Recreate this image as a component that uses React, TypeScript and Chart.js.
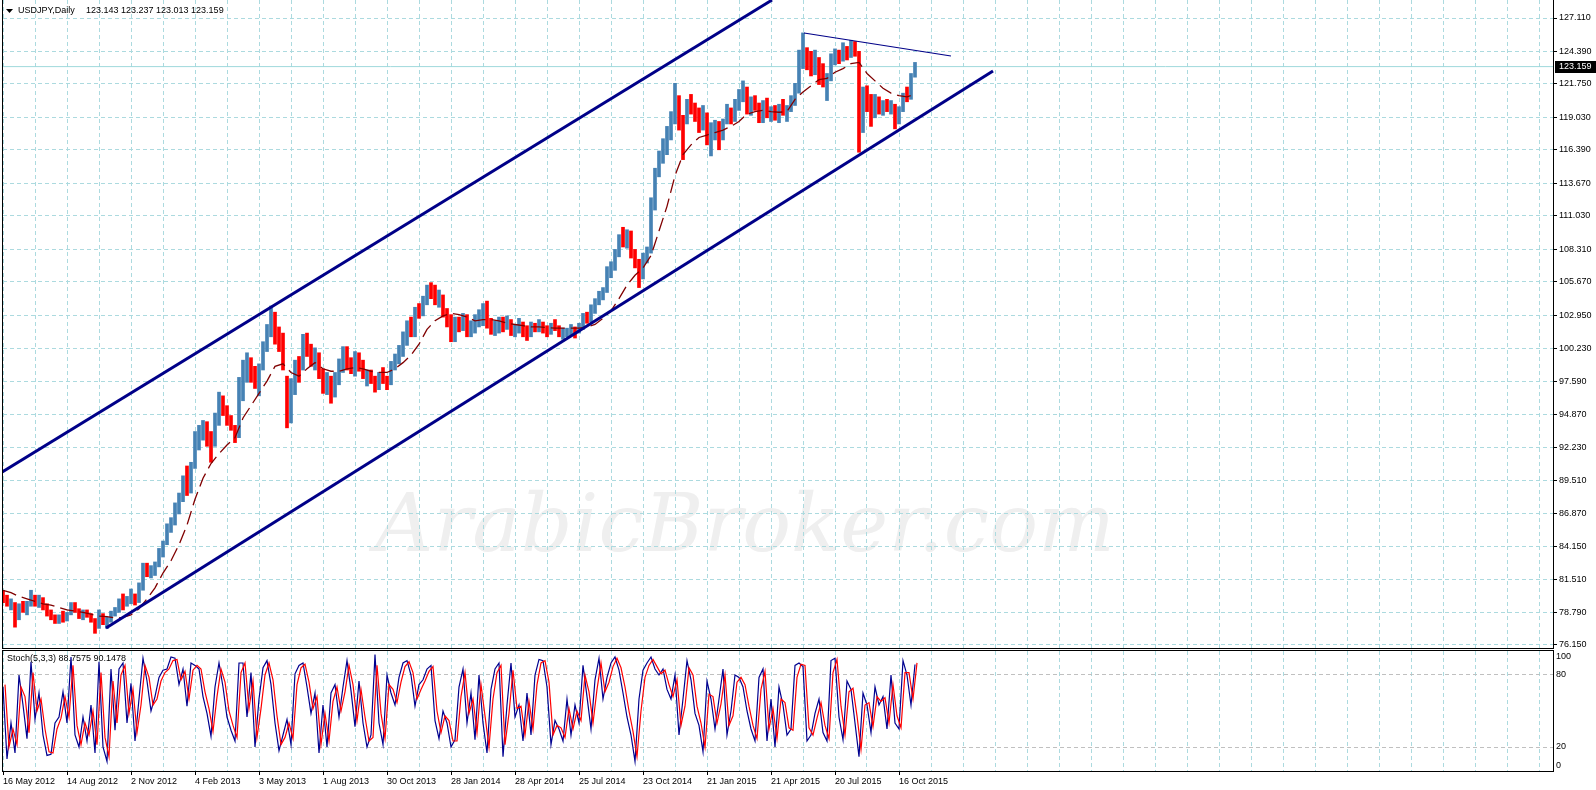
import React, { useEffect, useRef } from 'react';
import { Chart, registerables } from 'chart.js';

Chart.register(...registerables);

const FONT_FAMILY = '"Liberation Sans", Arial, sans-serif';
Chart.defaults.font.family = FONT_FAMILY;

// ---------- data ----------
const symbolTitle = 'USDJPY,Daily';
const lastOHLC = ['123.143', '123.237', '123.013', '123.159'];
const lastPrice = 123.159;

const priceTicks = [127.11, 124.39, 121.75, 119.03, 116.39, 113.67, 111.03, 108.31, 105.67, 102.95, 100.23, 97.59, 94.87, 92.23, 89.51, 86.87, 84.15, 81.51, 78.79, 76.15];
const priceMin = 75.906;
const priceMax = 128.573;

const dateLabels = ['16 May 2012', '14 Aug 2012', '2 Nov 2012', '4 Feb 2013', '3 May 2013', '1 Aug 2013', '30 Oct 2013', '28 Jan 2014', '28 Apr 2014', '25 Jul 2014', '23 Oct 2014', '21 Jan 2015', '21 Apr 2015', '20 Jul 2015', '16 Oct 2015'];

// price bars, one entry per 4 trading days
const barHigh = [
  80.6, 80.2, 79.9, 79.6, 79.5, 79.7, 79.7, 80.6, 80.2, 80.2,
  80.0, 79.5, 79.0, 78.6, 78.6, 78.9, 78.8, 79.6, 79.6, 79.1,
  79.0, 79.0, 78.7, 78.3, 79.0, 78.7, 78.4, 78.9, 79.2, 79.9,
  80.3, 80.1, 80.7, 80.3, 81.2, 82.8, 82.8, 82.6, 82.9, 84.0,
  84.6, 86.0, 86.5, 87.7, 88.5, 89.9, 90.7, 91.0, 93.5, 94.0,
  94.4, 94.3, 93.5, 95.0, 96.7, 96.4, 95.6, 94.8, 94.0, 97.9,
  99.3, 99.9, 99.5, 98.8, 99.0, 100.8, 102.2, 103.7, 103.2, 102.0,
  101.5, 98.0, 97.8, 99.3, 99.6, 101.4, 101.5, 100.6, 100.3, 99.9,
  98.6, 98.3, 98.0, 98.3, 99.4, 100.4, 100.4, 99.5, 100.0, 99.9,
  99.3, 98.5, 98.5, 98.0, 98.3, 98.7, 98.0, 99.2, 99.8, 100.5,
  101.6, 102.5, 102.8, 103.6, 103.9, 104.5, 105.4, 105.6, 105.4, 105.0,
  104.6, 103.5, 103.0, 102.8, 102.8, 103.1, 103.0, 102.5, 103.0, 103.4,
  103.9, 104.1, 102.7, 102.5, 102.8, 102.8, 102.9, 102.6, 102.2, 102.7,
  102.4, 102.1, 102.4, 102.3, 102.6, 102.4, 102.1, 102.3, 102.6, 102.1,
  101.9, 101.9, 102.2, 102.0, 102.3, 103.1, 103.2, 103.8, 104.3, 104.9,
  105.2, 106.9, 107.3, 108.3, 109.5, 110.1, 109.9, 109.8, 108.3, 107.5,
  108.0, 108.5, 112.5, 114.9, 116.3, 117.3, 118.3, 119.5, 121.8, 120.8,
  119.2, 120.5, 120.9, 120.2, 119.8, 120.0, 119.4, 118.6, 118.8, 118.7,
  118.9, 120.1, 119.8, 120.5, 121.3, 122.0, 121.5, 120.7, 120.8, 120.2,
  120.4, 120.6, 119.9, 120.0, 120.1, 120.5, 120.0, 120.8, 121.8, 124.5,
  125.9, 124.7, 124.4, 124.5, 123.9, 123.4, 122.6, 124.2, 124.6, 124.5,
  125.1, 124.8, 125.3, 125.2, 124.4, 121.5, 121.6, 120.9, 120.9, 120.7,
  120.4, 120.5, 120.4, 120.1, 119.9, 121.0, 121.5, 122.6, 123.5,
];
const barLow = [
  79.6, 79.3, 79.0, 77.6, 78.2, 78.8, 78.6, 79.3, 79.3, 79.2,
  79.0, 78.5, 78.2, 77.9, 77.9, 78.0, 78.1, 78.6, 78.8, 78.3,
  78.2, 78.4, 78.0, 77.1, 77.5, 77.8, 77.5, 78.0, 78.5, 78.8,
  79.0, 79.3, 79.5, 79.4, 79.6, 80.6, 81.7, 81.6, 81.8, 82.5,
  83.3, 84.3, 85.3, 85.9, 86.8, 87.8, 88.3, 88.5, 90.5, 92.0,
  92.8, 92.3, 91.0, 92.3, 94.0, 94.8, 94.0, 93.6, 92.6, 93.0,
  96.0, 97.5, 97.5, 97.0, 96.4, 98.5, 100.0, 101.2, 100.6, 100.0,
  98.5, 93.8, 94.2, 96.5, 97.5, 98.5, 99.6, 98.8, 98.5, 97.8,
  96.6, 96.5, 95.8, 96.3, 97.3, 98.3, 98.5, 98.2, 98.0, 98.4,
  97.8, 97.2, 97.4, 96.7, 96.9, 97.4, 96.9, 97.3, 98.5, 99.0,
  99.6, 100.5, 101.2, 101.2, 102.7, 102.9, 103.8, 104.3, 103.8, 103.6,
  102.8, 102.0, 100.8, 100.8, 101.6, 101.7, 101.2, 101.2, 101.5, 102.0,
  102.1, 101.9, 101.4, 101.3, 101.5, 101.6, 101.8, 101.3, 101.2, 101.5,
  101.2, 100.9, 101.2, 101.6, 101.6, 101.5, 101.2, 101.4, 101.7, 101.2,
  101.0, 101.2, 101.3, 101.1, 101.5, 101.8, 102.3, 102.4, 103.1, 103.8,
  104.2, 104.8, 106.0, 106.6, 107.7, 108.5, 108.4, 107.6, 106.8, 105.2,
  105.9, 107.2, 108.0, 111.5, 114.2, 115.3, 116.0, 117.2, 118.5, 118.0,
  115.6, 118.5, 119.3, 118.7, 117.8, 118.0, 116.8, 115.9, 117.2, 116.4,
  117.2, 118.5, 118.5, 118.7, 119.6, 120.3, 119.3, 119.2, 119.6, 118.6,
  118.6, 119.0, 118.7, 118.8, 118.6, 119.2, 118.7, 119.5, 120.0, 121.0,
  123.0, 122.9, 122.4, 122.5, 121.7, 121.5, 120.4, 122.0, 123.3, 123.4,
  123.6, 123.7, 123.9, 124.0, 116.2, 117.8, 119.5, 118.3, 119.0, 119.3,
  119.2, 119.5, 119.3, 118.1, 118.5, 119.5, 120.3, 120.5, 122.3,
];
const barClose = [
  79.9, 79.5, 79.7, 78.4, 79.3, 79.2, 79.6, 79.8, 79.5, 79.9,
  79.3, 78.8, 78.3, 78.2, 78.5, 78.2, 78.6, 79.4, 78.9, 78.4,
  78.8, 78.5, 78.2, 77.6, 78.6, 78.0, 78.2, 78.7, 79.0, 79.6,
  79.3, 79.9, 80.3, 79.6, 80.9, 82.3, 82.0, 82.4, 82.6, 83.8,
  84.4, 85.8, 86.0, 87.4, 88.0, 89.6, 89.1, 90.6, 93.2, 93.4,
  93.9, 92.8, 92.5, 94.5, 96.0, 95.2, 94.3, 94.0, 93.2, 97.6,
  98.8, 99.5, 97.9, 97.3, 98.9, 100.4, 101.7, 103.1, 101.0, 100.9,
  99.0, 94.8, 97.0, 98.7, 98.1, 100.8, 100.2, 99.3, 99.8, 98.2,
  97.0, 97.9, 96.3, 97.8, 99.2, 99.6, 99.1, 98.6, 99.7, 98.6,
  97.9, 98.3, 97.6, 97.1, 98.0, 97.9, 97.5, 98.9, 99.2, 100.3,
  101.3, 102.1, 101.6, 103.3, 103.2, 104.3, 105.0, 104.8, 104.2, 104.5,
  102.9, 102.6, 101.5, 102.3, 101.9, 102.8, 101.5, 102.2, 102.7, 103.1,
  103.6, 102.4, 101.6, 102.1, 102.3, 102.1, 102.6, 101.6, 102.0, 102.2,
  101.7, 101.3, 102.0, 101.9, 102.2, 101.7, 101.5, 102.0, 101.9, 101.4,
  101.5, 101.7, 101.9, 101.8, 102.1, 102.9, 102.5, 103.6, 104.1, 104.7,
  105.0, 106.6, 107.0, 108.0, 109.3, 109.0, 109.6, 108.0, 107.0, 106.2,
  107.7, 108.2, 112.3, 114.6, 115.8, 116.6, 117.7, 119.3, 120.5, 118.6,
  118.0, 120.2, 119.9, 119.5, 118.2, 119.3, 117.3, 117.6, 118.0, 117.0,
  118.7, 119.7, 118.8, 120.2, 121.0, 121.1, 119.8, 120.3, 119.8, 119.3,
  119.9, 119.4, 119.6, 119.2, 119.9, 119.4, 119.8, 120.5, 121.5, 124.2,
  124.6, 123.4, 122.8, 123.8, 122.6, 122.0, 122.3, 123.8, 124.1, 124.0,
  124.6, 124.2, 124.9, 124.3, 119.2, 120.6, 120.1, 119.0, 120.5, 119.6,
  120.0, 119.8, 119.9, 119.0, 119.5, 120.7, 120.6, 122.4, 123.159,
];

// moving average, one entry per 8 trading days
const maValues = [
  80.6, 80.4, 80.1, 79.9, 79.7, 79.5, 79.4, 79.2, 79.0, 78.9,
  78.8, 78.65, 78.5, 78.45, 78.35, 78.4, 78.6, 79.1, 79.9, 80.8,
  82.0, 83.0, 84.3, 85.9, 88.0, 89.7, 90.9, 91.7, 92.4, 93.0,
  94.6, 95.6, 96.6, 97.6, 98.8, 99.0, 98.3, 98.0, 98.6, 99.1,
  98.6, 98.4, 98.4, 98.6, 98.7, 98.6, 98.4, 98.3, 98.3, 98.6,
  99.1, 99.7, 100.6, 101.8, 102.5, 102.9, 103.1, 103.0, 102.8, 102.5,
  102.6, 102.6, 102.5, 102.3, 102.2, 102.1, 102.0, 102.0, 101.95, 101.9,
  101.9, 101.9, 101.9, 102.0, 102.2, 102.7, 103.3, 104.3, 105.4, 106.2,
  106.8, 107.8, 109.8, 111.8, 114.3, 116.0, 116.8, 117.4, 117.6, 117.8,
  118.0, 118.3, 118.7, 119.3, 119.5, 119.6, 119.5, 119.45, 119.5, 120.5,
  121.1, 121.6, 122.1, 122.2, 122.7, 123.0, 123.4, 123.5, 122.6, 122.0,
  121.4, 121.0, 120.8, 120.7, 120.9,
];

// stochastic (5,3,3), one entry per 4 trading days
const stochMain = [
  70, 10, 40, 15, 80, 55, 27, 91, 43, 65,
  30, 13, 14, 40, 45, 66, 40, 95, 30, 20,
  45, 25, 55, 15, 91, 20, 8, 85, 34, 85,
  90, 40, 73, 25, 60, 94, 75, 50, 62, 78,
  84, 85, 95, 94, 72, 85, 54, 90, 88, 85,
  62, 48, 29, 70, 90, 70, 45, 34, 25, 90,
  90, 45, 82, 20, 60, 86, 92, 72, 40, 17,
  30, 43, 22, 81, 88, 90, 70, 48, 65, 15,
  55, 20, 65, 72, 45, 70, 92, 67, 37, 75,
  40, 20, 30, 97, 40, 22, 80, 65, 55, 78,
  90, 92, 80, 54, 72, 76, 85, 88, 42, 27,
  50, 40, 20, 26, 70, 85, 40, 65, 26, 80,
  40, 15, 68, 85, 90, 12, 55, 90, 45, 55,
  25, 65, 30, 80, 93, 92, 70, 22, 42, 35,
  25, 60, 30, 55, 40, 88, 62, 35, 76, 94,
  60, 78, 90, 95, 84, 65, 45, 30, 8, 60,
  84, 90, 95, 85, 80, 85, 68, 60, 80, 30,
  60, 92, 76, 48, 38, 16, 75, 60, 35, 60,
  85, 30, 50, 80, 78, 70, 50, 35, 25, 78,
  85, 25, 60, 20, 70, 55, 30, 35, 88, 90,
  87, 25, 30, 48, 60, 32, 25, 92, 94, 45,
  26, 75, 68, 40, 12, 65, 55, 32, 70, 55,
  62, 35, 80, 40, 35, 92, 80, 55, 88.7575,
];
const stochSignal = [
  72, 20, 35, 22, 70, 62, 32, 82, 50, 60,
  35, 16, 15, 35, 44, 62, 45, 88, 38, 22,
  40, 30, 50, 22, 82, 28, 12, 75, 40, 80,
  88, 48, 68, 32, 55, 88, 78, 55, 60, 75,
  82, 85, 92, 93, 76, 83, 60, 84, 88, 85,
  66, 52, 33, 62, 85, 74, 50, 38, 28, 82,
  90, 52, 75, 28, 52, 80, 90, 76, 46, 22,
  28, 40, 27, 72, 86, 89, 74, 52, 62, 22,
  48, 25, 58, 70, 50, 66, 88, 72, 42, 68,
  45, 25, 28, 88, 48, 27, 72, 68, 57, 74,
  87, 91, 82, 60, 68, 75, 83, 87, 50, 32,
  46, 42, 25, 25, 62, 82, 48, 60, 32, 72,
  46, 20, 60, 82, 88, 22, 48, 84, 52, 54,
  30, 58, 35, 72, 90, 92, 74, 30, 38, 36,
  28, 52, 35, 50, 42, 80, 66, 40, 68, 90,
  66, 74, 87, 94, 86, 70, 50, 33, 12, 50,
  78, 88, 93, 87, 81, 84, 72, 62, 76, 38,
  54, 86, 80, 54, 40, 20, 64, 62, 40, 56,
  80, 38, 46, 74, 78, 72, 54, 38, 27, 68,
  83, 35, 52, 27, 60, 57, 36, 34, 78, 89,
  88, 36, 30, 44, 57, 38, 27, 82, 93, 54,
  30, 66, 69, 46, 18, 55, 57, 37, 62, 58,
  61, 40, 72, 46, 36, 82, 82, 60, 90.1478,
];
const stochLevels = [20, 80];

// trend lines: [bar index, price]
const channelUpper = [[-1, 90.21], [769, 128.57]];
const channelLower = [[103, 77.53], [990, 122.8]];
const resistanceLine = [[801, 125.89], [948, 124.02]];

// ---------- layout constants ----------
const BAR_STEP = 4;
const MA_STEP = 8;
const X_MAX = 1550;
const GRID_STEP = 32;
const GRID_COLOR = '#acdadf';
const UP_COLOR = '#4682b4';
const DOWN_COLOR = '#ff0000';
const MA_COLOR = '#800000';
const TREND_COLOR = '#000088';
const PRICE_LINE_COLOR = '#9fd9dc';
const DASH = [4, 3];

const gridTicks = () => {
  const out: any[] = [];
  for (let v = 0; v <= X_MAX; v += GRID_STEP) out.push({ value: v });
  return out;
};

const fixSize = (w?: number, h?: number) => (scale: any) => {
  if (w !== undefined) scale.width = w;
  if (h !== undefined) scale.height = h;
  scale.paddingTop = 0;
  scale.paddingBottom = 0;
  scale.paddingLeft = 0;
  scale.paddingRight = 0;
};

const toPoints = (arr: number[][]) => arr.map(([x, y]) => ({ x, y }));

function mainConfig(): any {
  const bars = barHigh.map((h, i) => ({ x: i * BAR_STEP, y: [barLow[i], h] }));
  const barColors = barClose.map((c, i) =>
    i === 0 ? DOWN_COLOR : c >= barClose[i - 1] ? UP_COLOR : DOWN_COLOR
  );
  const ma = maValues.map((v, i) => ({ x: i * MA_STEP, y: v }));

  const decor = {
    id: 'mainDecor',
    beforeDraw(chart: any) {
      const ctx = chart.ctx;
      ctx.save();
      ctx.fillStyle = '#ffffff';
      ctx.fillRect(0, 0, chart.width, chart.height);
      // watermark
      ctx.font = 'italic 100px "DejaVu Serif", serif';
      const w = ctx.measureText('ArabicBroker.com').width;
      const size = (100 * 740) / w;
      ctx.font = `italic ${size}px "DejaVu Serif", serif`;
      ctx.fillStyle = '#efefef';
      ctx.textAlign = 'center';
      ctx.textBaseline = 'middle';
      ctx.fillText('ArabicBroker.com', 745, 530);
      ctx.restore();
    },
    afterDraw(chart: any) {
      const ctx = chart.ctx;
      const a = chart.chartArea;
      ctx.save();
      ctx.fillStyle = '#000';
      ctx.fillRect(a.left - 1, 0, 1, a.bottom + 1);
      ctx.fillRect(a.right, 0, 1, a.bottom + 1);
      ctx.fillRect(a.left - 1, a.bottom, a.right - a.left + 2, 1);
      // title
      ctx.beginPath();
      ctx.moveTo(6, 9);
      ctx.lineTo(13, 9);
      ctx.lineTo(9.5, 13);
      ctx.closePath();
      ctx.fill();
      ctx.font = `9px ${FONT_FAMILY}`;
      ctx.textBaseline = 'middle';
      ctx.textAlign = 'left';
      ctx.fillText(symbolTitle, 18, 11);
      ctx.fillText(lastOHLC.join(' '), 86, 11);
      // current price label
      const y = chart.scales.y.getPixelForValue(lastPrice);
      ctx.fillRect(a.right + 2, Math.round(y) - 6, 42, 12);
      ctx.fillStyle = '#fff';
      ctx.fillText(lastPrice.toFixed(3), a.right + 6, y);
      ctx.restore();
    },
  };

  return {
    type: 'bar',
    data: {
      datasets: [
        {
          type: 'line', data: toPoints(channelUpper), borderColor: TREND_COLOR, borderWidth: 3,
          pointRadius: 0, order: 1,
        },
        {
          type: 'line', data: toPoints(channelLower), borderColor: TREND_COLOR, borderWidth: 3,
          pointRadius: 0, order: 1,
        },
        {
          type: 'line', data: toPoints(resistanceLine), borderColor: TREND_COLOR, borderWidth: 1.2,
          pointRadius: 0, order: 1,
        },
        {
          type: 'line', data: ma, borderColor: MA_COLOR, borderWidth: 1.3, borderDash: [14, 6],
          pointRadius: 0, order: 2,
        },
        {
          type: 'bar', data: bars, backgroundColor: barColors, borderWidth: 0, barThickness: 3,
          grouped: false, order: 3,
        },
        {
          type: 'line', data: [{ x: 0, y: lastPrice }, { x: X_MAX, y: lastPrice }],
          borderColor: PRICE_LINE_COLOR, borderWidth: 1, pointRadius: 0, order: 4,
        },
      ],
    },
    options: {
      responsive: false,
      animation: false,
      events: [],
      layout: { padding: { left: 3, top: 0, right: 0, bottom: 2 } },
      plugins: { legend: { display: false }, tooltip: { enabled: false } },
      scales: {
        x: {
          type: 'linear', min: 0, max: X_MAX, offset: false,
          afterBuildTicks: (s: any) => { s.ticks = gridTicks(); },
          afterFit: fixSize(undefined, 0),
          ticks: { display: false },
          grid: { color: GRID_COLOR, drawTicks: false, lineWidth: 1, offset: false },
          border: { display: false, dash: DASH },
        },
        y: {
          type: 'linear', position: 'right', min: priceMin, max: priceMax,
          afterBuildTicks: (s: any) => { s.ticks = priceTicks.map((v) => ({ value: v })); },
          afterFit: fixSize(43),
          ticks: {
            autoSkip: false, color: '#000', padding: 2,
            font: { size: 9, family: FONT_FAMILY },
            callback: (v: any) => Number(v).toFixed(3),
          },
          grid: { color: GRID_COLOR, tickColor: '#000', tickLength: 4, lineWidth: 1 },
          border: { display: false, dash: DASH },
        },
      },
    },
    plugins: [decor],
  };
}

function stochConfig(): any {
  const k = stochMain.map((v, i) => ({ x: i * BAR_STEP, y: v }));
  const d = stochSignal.map((v, i) => ({ x: i * BAR_STEP + 2, y: v }));

  const decor = {
    id: 'stochDecor',
    beforeDraw(chart: any) {
      const ctx = chart.ctx;
      ctx.save();
      ctx.fillStyle = '#ffffff';
      ctx.fillRect(0, 0, chart.width, chart.height);
      ctx.restore();
    },
    afterDraw(chart: any) {
      const ctx = chart.ctx;
      const a = chart.chartArea;
      const ys = chart.scales.y;
      ctx.save();
      ctx.fillStyle = '#000';
      ctx.fillRect(a.left - 1, a.top - 1, a.right - a.left + 2, 1);
      ctx.fillRect(a.left - 1, a.bottom, a.right - a.left + 2, 1);
      ctx.fillRect(a.left - 1, a.top - 1, 1, a.bottom - a.top + 2);
      ctx.fillRect(a.right, a.top - 1, 1, a.bottom - a.top + 2);
      ctx.font = `9px ${FONT_FAMILY}`;
      ctx.textBaseline = 'middle';
      ctx.textAlign = 'left';
      ctx.fillText(
        `Stoch(5,3,3) ${stochMain[stochMain.length - 1].toFixed(4)} ${stochSignal[stochSignal.length - 1].toFixed(4)}`,
        7, 9
      );
      const labels: [number, number][] = [[100, 6], [80, 0], [20, 0], [0, -5]];
      labels.forEach(([v, off]) => {
        ctx.fillText(String(v), a.right + 3, ys.getPixelForValue(v) + off);
      });
      ctx.restore();
    },
  };

  return {
    type: 'line',
    data: {
      datasets: [
        { data: d, borderColor: '#ff0000', borderWidth: 1.2, pointRadius: 0, order: 1 },
        { data: k, borderColor: '#00008f', borderWidth: 1.2, pointRadius: 0, order: 2 },
      ],
    },
    options: {
      responsive: false,
      animation: false,
      events: [],
      layout: { padding: { left: 3, top: 1, right: 0, bottom: 0 } },
      plugins: { legend: { display: false }, tooltip: { enabled: false } },
      scales: {
        x: {
          type: 'linear', min: 0, max: X_MAX, offset: false,
          afterBuildTicks: (s: any) => { s.ticks = gridTicks(); },
          afterFit: fixSize(undefined, 19),
          ticks: {
            autoSkip: false, maxRotation: 0, minRotation: 0, align: 'start', padding: 1,
            color: '#000', font: { size: 9, family: FONT_FAMILY },
            callback: (_v: any, i: number) => (i % 2 === 0 && dateLabels[i / 2] ? dateLabels[i / 2] : ''),
          },
          grid: {
            color: GRID_COLOR, lineWidth: 1, tickLength: 4, offset: false,
            tickColor: (c: any) => (c.index % 2 === 0 && c.index / 2 < dateLabels.length ? '#000' : 'rgba(0,0,0,0)'),
          },
          border: { display: false, dash: DASH },
        },
        y: {
          type: 'linear', min: 0, max: 100,
          position: 'right',
          afterBuildTicks: (s: any) => { s.ticks = stochLevels.map((v) => ({ value: v })); },
          afterFit: fixSize(43),
          ticks: { display: false },
          grid: { color: '#c0c0c0', drawTicks: false, lineWidth: 1 },
          border: { display: false, dash: DASH },
        },
      },
    },
    plugins: [decor],
  };
}

export default function App() {
  const mainRef = useRef<HTMLCanvasElement>(null);
  const stochRef = useRef<HTMLCanvasElement>(null);

  useEffect(() => {
    document.body.style.margin = '0';
    const c1 = new Chart(mainRef.current as HTMLCanvasElement, mainConfig());
    const c2 = new Chart(stochRef.current as HTMLCanvasElement, stochConfig());
    return () => {
      c1.destroy();
      c2.destroy();
    };
  }, []);

  return (
    <div style={{ position: 'fixed', left: 0, top: 0, width: 1596, height: 790, background: '#fff', overflow: 'hidden' }}>
      <canvas ref={mainRef} width={1596} height={650} style={{ position: 'absolute', left: 0, top: 0, width: 1596, height: 650 }} />
      <canvas ref={stochRef} width={1596} height={140} style={{ position: 'absolute', left: 0, top: 650, width: 1596, height: 140 }} />
    </div>
  );
}
